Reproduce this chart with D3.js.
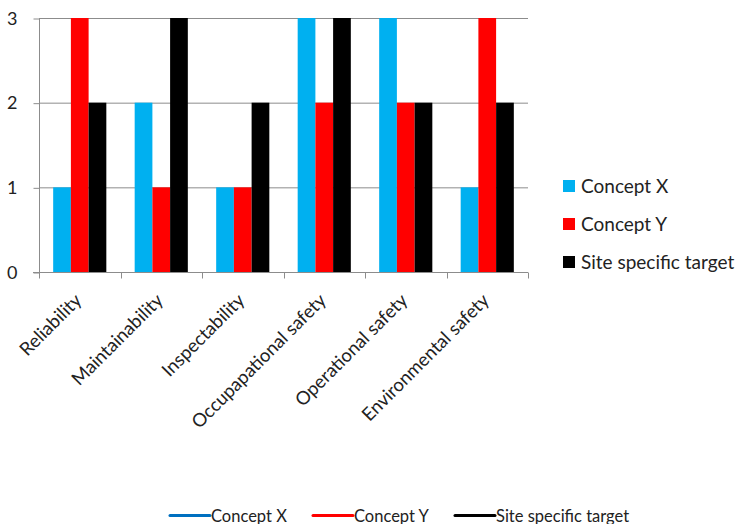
<!DOCTYPE html>
<html>
<head>
<meta charset="utf-8">
<script src="https://cdn.jsdelivr.net/npm/d3@7"></script>
<style>
  html, body { margin: 0; padding: 0; background: #fff; }
  svg { display: block; font-family: Lato, "Open Sans", sans-serif; }
</style>
</head>
<body>
<svg id="chart" width="742" height="524"></svg>
<script>
// Criteria scored for each concept against the site target
const categories = ["Reliability", "Maintainability", "Inspectability",
  "Occupapational safety", "Operational safety", "Environmental safety"];
const seriesNames = ["Concept X", "Concept Y", "Site specific target"];
const conceptX = [1, 2, 1, 3, 3, 1];
const conceptY = [3, 1, 1, 2, 2, 3];
const siteTarget = [2, 3, 2, 3, 2, 2];
const yTicks = [0, 1, 2, 3];

const barColors = ["#00B0F0", "#FF0000", "#000000"];
const lineColors = ["#0070C0", "#FF0000", "#000000"];
const seriesValues = [conceptX, conceptY, siteTarget];

const svg = d3.select("#chart");
const plot = { left: 39, right: 528, top: 18, bottom: 272 };

const x = d3.scaleBand().domain(categories).range([plot.left, plot.right]).padding(0);
const xs = d3.scaleBand().domain(seriesNames).range([0, x.bandwidth()])
  .paddingInner(0).paddingOuter(0.8);
const y = d3.scaleLinear().domain([0, 3]).range([plot.bottom, plot.top]);

// Horizontal gridlines
svg.append("g").selectAll("line").data(yTicks.filter(t => t > 0)).join("line")
  .attr("x1", plot.left).attr("x2", plot.right)
  .attr("y1", d => y(d) + 0.5).attr("y2", d => y(d) + 0.5)
  .attr("stroke", "#8c8c8c").attr("stroke-width", 1);

// Bars
const rows = categories.map((c, i) => ({ c, vals: seriesNames.map((s, k) => ({ s, k, v: seriesValues[k][i] })) }));
svg.append("g").selectAll("g").data(rows).join("g")
  .attr("transform", d => `translate(${x(d.c)},0)`)
  .selectAll("rect").data(d => d.vals).join("rect")
  .attr("x", d => xs(d.s)).attr("width", xs.bandwidth())
  .attr("y", d => y(d.v)).attr("height", d => y(0) - y(d.v))
  .attr("fill", d => barColors[d.k]);

// Y axis
const yAxis = d3.axisLeft(y).tickValues(yTicks).tickFormat(d3.format("d")).tickSize(6).tickPadding(16);
const gy = svg.append("g").attr("transform", `translate(${plot.left + 0.5},0.5)`).call(yAxis);
gy.select(".domain").attr("stroke", "#8c8c8c").attr("d", `M0,${plot.top}V${plot.bottom}`);
gy.selectAll(".tick line").attr("stroke", "#8c8c8c");
gy.selectAll(".tick text").attr("font-size", 18).attr("fill", "#222").attr("font-family", "Lato, sans-serif");

// X axis with ticks between categories
const gx = svg.append("g").attr("transform", `translate(0,${plot.bottom + 0.5})`);
gx.append("line").attr("x1", plot.left - 6).attr("x2", plot.right).attr("stroke", "#8c8c8c");
gx.selectAll("line.tk").data(d3.range(categories.length + 1)).join("line").attr("class", "tk")
  .attr("x1", i => Math.round(plot.left + i * x.step()) + 0.5)
  .attr("x2", i => Math.round(plot.left + i * x.step()) + 0.5)
  .attr("y1", 0).attr("y2", 6).attr("stroke", "#8c8c8c");
gx.selectAll("text").data(categories).join("text")
  .attr("transform", d => `translate(${x(d) + x.bandwidth() / 2 + 3},${29}) rotate(-45)`)
  .attr("text-anchor", "end").attr("font-size", 18.5).attr("fill", "#222")
  .text(d => d);

// Right legend (bar swatches)
const rl = svg.append("g").attr("transform", "translate(563,0)");
const rlItems = rl.selectAll("g").data(seriesNames).join("g")
  .attr("transform", (d, i) => `translate(0,${186 + i * 38})`);
rlItems.append("rect").attr("x", 0).attr("y", -6).attr("width", 12).attr("height", 12)
  .attr("fill", (d, i) => barColors[i]);
rlItems.append("text").attr("x", 18).attr("y", 7).attr("font-size", 19).attr("fill", "#222").text(d => d);

// Bottom legend (line swatches)
const bl = svg.append("g");
const blX = [170, 313, 455];
const blItems = bl.selectAll("g").data(seriesNames).join("g")
  .attr("transform", (d, i) => `translate(${blX[i]},515.5)`);
blItems.append("line").attr("x1", 0).attr("x2", 40)
  .attr("stroke", (d, i) => lineColors[i]).attr("stroke-width", 3).attr("stroke-linecap", "round");
blItems.append("text").attr("x", 41).attr("y", 6).attr("font-size", 16.5).attr("fill", "#222").text(d => d);
</script>
</body>
</html>
